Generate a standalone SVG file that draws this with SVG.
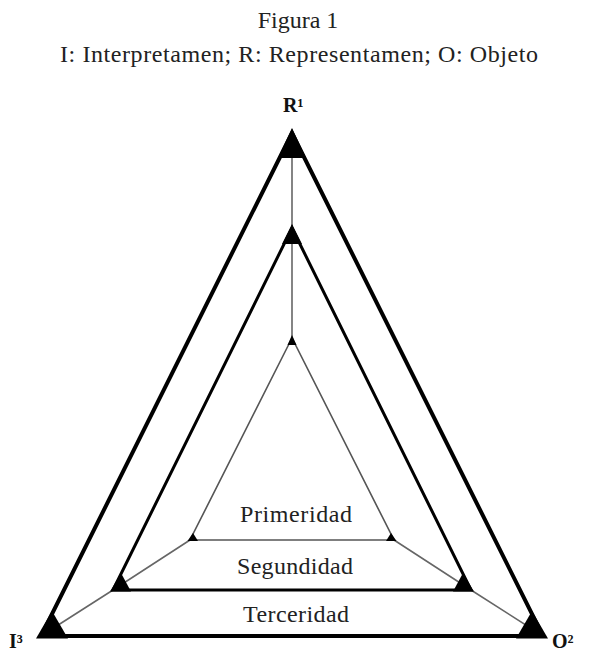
<svg xmlns="http://www.w3.org/2000/svg" width="596" height="653" viewBox="0 0 596 653">
<style>
.t{font-family:"Liberation Serif","Times New Roman",serif;fill:#222;font-size:24px}
.lbl{font-family:"Liberation Serif","Times New Roman",serif;fill:#111;font-size:20px;font-weight:bold}
.conn{stroke:#666;stroke-width:1.6;fill:none}
.corner{fill:#000}
</style>
<rect width="596" height="653" fill="#fff"/>
<text class="t" x="298" y="28" text-anchor="middle">Figura 1</text>
<text class="t" x="60" y="62" textLength="478" lengthAdjust="spacing">I: Interpretamen; R: Representamen; O: Objeto</text>
<g id="connectors">
<polyline class="conn" points="292,133 292,228 292,338"/>
<polyline class="conn" points="41,636 113,590 190,540"/>
<polyline class="conn" points="543,636 471,590 394,540"/>
</g>
<g id="outer">
<polygon points="292,133 41,636 543,636" fill="none" stroke="#000" stroke-width="4" stroke-linejoin="miter"/>
<polygon class="corner" points="292,128 278,158 306,158"/>
<polygon class="corner" points="36,638.5 68,638.5 52,611"/>
<polygon class="corner" points="548,638.5 516,638.5 532,611"/>
</g>
<g id="middle">
<polygon points="292,228 113,590 471,590" fill="none" stroke="#000" stroke-width="3" stroke-linejoin="miter"/>
<polygon class="corner" points="292,224 282,244 302,244"/>
<polygon class="corner" points="110,591.5 131,591.5 121,573"/>
<polygon class="corner" points="474,591.5 453,591.5 463,573"/>
</g>
<g id="inner">
<polygon points="292,338 190,540 394,540" fill="none" stroke="#555" stroke-width="1.6" stroke-linejoin="miter"/>
<polygon class="corner" points="292,335 287.5,345 296.5,345"/>
<polygon class="corner" points="187.5,541 198,541 193,533"/>
<polygon class="corner" points="396.5,541 386,541 391,533"/>
</g>
<g id="primeridad"><text class="t" x="296" y="522" text-anchor="middle" textLength="112" lengthAdjust="spacing">Primeridad</text></g>
<g id="segundidad"><text class="t" x="295" y="574" text-anchor="middle" textLength="116" lengthAdjust="spacing">Segundidad</text></g>
<g id="terceridad"><text class="t" x="296" y="622" text-anchor="middle" textLength="106" lengthAdjust="spacing">Terceridad</text></g>
<g id="R"><text class="lbl" x="283" y="112">R¹</text></g>
<g id="I"><text class="lbl" x="9" y="648">I³</text></g>
<g id="O"><text class="lbl" x="552" y="648">O²</text></g>
</svg>
